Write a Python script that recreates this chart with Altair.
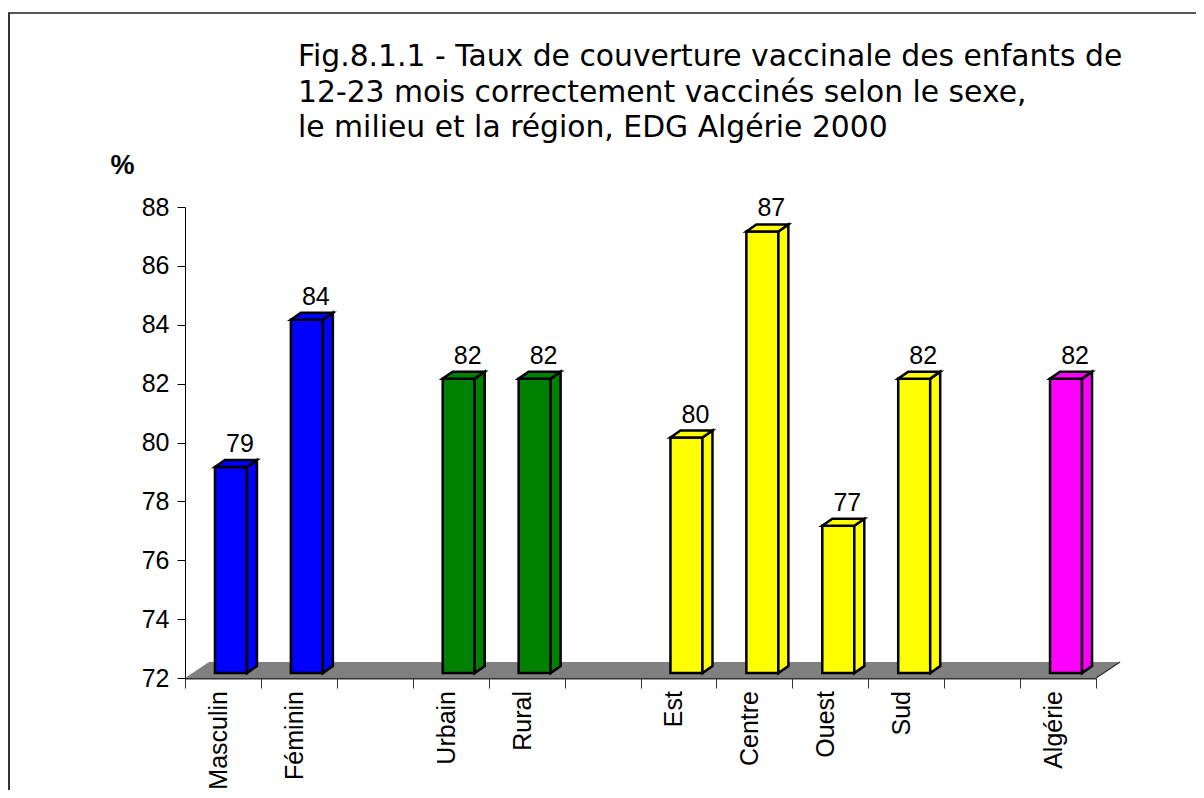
import altair as alt
import pandas as pd

# ---------------- data ----------------
categories = ["Masculin", "Féminin", "", "Urbain", "Rural", "", "Est", "Centre", "Ouest", "Sud", "", "Algérie"]
values = [79, 84, None, 82, 82, None, 80, 87, 77, 82, None, 82]
groups = ["Sexe", "Sexe", "", "Milieu", "Milieu", "", "Région", "Région", "Région", "Région", "", "Total"]
y_ticks = [72, 74, 76, 78, 80, 82, 84, 86, 88]
title_lines = [
    "Fig.8.1.1 - Taux de couverture vaccinale des enfants de",
    "12-23 mois correctement vaccinés selon le sexe,",
    "le milieu et la région, EDG Algérie 2000",
]
y_title = "%"

group_names = ["Sexe", "Milieu", "Région", "Total"]
front_colors = ["#0000FF", "#008000", "#FFFF00", "#FF00FF"]
side_colors = ["#000080", "#004000", "#808000", "#800080"]
top_colors = ["#0000CC", "#006600", "#CCCC00", "#CC00CC"]

# ---------------- geometry (style constants, in pixels) ----------------
W, H = 911, 471
Y0, Y1 = y_ticks[0], y_ticks[-1]
N = len(categories)
ux = N / W            # data units per pixel (x)
uy = (Y1 - Y0) / H    # data units per pixel (y)

BAR_W = 32 * ux
BAR_SHIFT_X = -8 * ux
BAR_SHIFT_Y = 5 * uy
DEPTH_X = 10 * ux
DEPTH_Y = 7 * uy
FLOOR_DX = 24 * ux
FLOOR_DY = 16 * uy
FONT = "Liberation Sans"
FS = 25
SW = 2.5

rows, side, top, labels = [], [], [], []
for i, (c, v, g) in enumerate(zip(categories, values, groups)):
    center = i + 0.5
    labels.append({"cat": c, "xc": center})
    if v is None:
        continue
    xl = center + BAR_SHIFT_X
    xr = xl + BAR_W
    yb = Y0 + BAR_SHIFT_Y
    yt = v + BAR_SHIFT_Y
    rows.append({"id": i, "g": g, "xl": xl, "xr": xr, "yb": yb, "yt": yt, "v": v, "xc": center})
    side += [
        {"id": i, "g": g, "x": xr, "y": yt, "y2": yb},
        {"id": i, "g": g, "x": xr + DEPTH_X, "y": yt + DEPTH_Y, "y2": yb + DEPTH_Y},
    ]
    top += [
        {"id": i, "g": g, "x": xl, "y": yt, "y2": yt},
        {"id": i, "g": g, "x": xl + DEPTH_X, "y": yt + DEPTH_Y, "y2": yt},
        {"id": i, "g": g, "x": xr, "y": yt + DEPTH_Y, "y2": yt},
        {"id": i, "g": g, "x": xr + DEPTH_X, "y": yt + DEPTH_Y, "y2": yt + DEPTH_Y},
    ]

bars = pd.DataFrame(rows)
side_df = pd.DataFrame(side)
top_df = pd.DataFrame(top)
lab_df = pd.DataFrame([l for l in labels if l["cat"]])

floor_df = pd.DataFrame({
    "x": [0, FLOOR_DX, N, N + FLOOR_DX],
    "y": [Y0, Y0 + FLOOR_DY, Y0 + FLOOR_DY, Y0 + FLOOR_DY],
    "y2": [Y0, Y0, Y0, Y0 + FLOOR_DY],
})
edge_df = pd.DataFrame({"x": [N], "y": [Y0], "x2": [N + FLOOR_DX], "y2": [Y0 + FLOOR_DY]})

xscale = alt.Scale(domain=[0, N], nice=False, zero=False)
yscale = alt.Scale(domain=[Y0, Y1], nice=False, zero=False)

x_axis = alt.Axis(values=list(range(N + 1)), labels=False, tickSize=10, tickColor="#333333",
                  domainColor="#333333", domainWidth=2, grid=False, title=None)
y_axis = alt.Axis(values=y_ticks, labelFontSize=FS, labelFont=FONT, labelColor="black",
                  tickSize=8, tickColor="black", domainColor="black", labelPadding=8, grid=False,
                  title=y_title, titleAngle=0, titleX=-63, titleY=-42, titleFontSize=27,
                  titleFont=FONT, titleFontWeight="bold", titleAlign="center",
                  titleBaseline="middle", titleColor="black")

floor = alt.Chart(floor_df).mark_area(color="#808080").encode(
    x=alt.X("x:Q", scale=xscale, axis=x_axis),
    y=alt.Y("y:Q", scale=yscale, axis=y_axis, stack=None),
    y2="y2:Q",
)
edge = alt.Chart(edge_df).mark_rule(color="#333333", strokeWidth=1.5).encode(
    x=alt.X("x:Q", scale=xscale), y=alt.Y("y:Q", scale=yscale), x2="x2:Q", y2="y2:Q"
)

front = alt.Chart(bars).mark_rect(stroke="black", strokeWidth=SW).encode(
    x=alt.X("xl:Q", scale=xscale), x2="xr:Q",
    y=alt.Y("yt:Q", scale=yscale), y2="yb:Q",
    color=alt.Color("g:N", scale=alt.Scale(domain=group_names, range=front_colors), legend=None),
)
side_faces = alt.Chart(side_df).mark_area(stroke="black", strokeWidth=SW, strokeJoin="miter").encode(
    x=alt.X("x:Q", scale=xscale),
    y=alt.Y("y:Q", scale=yscale, stack=None), y2="y2:Q",
    detail="id:N",
    color=alt.Color("g:N", scale=alt.Scale(domain=group_names, range=side_colors), legend=None),
)
top_faces = alt.Chart(top_df).mark_area(stroke="black", strokeWidth=SW, strokeJoin="miter").encode(
    x=alt.X("x:Q", scale=xscale),
    y=alt.Y("y:Q", scale=yscale, stack=None), y2="y2:Q",
    detail="id:N",
    color=alt.Color("g:N", scale=alt.Scale(domain=group_names, range=top_colors), legend=None),
)

value_text = alt.Chart(bars).mark_text(
    font=FONT, fontSize=FS, color="black", align="center", baseline="alphabetic",
    xOffset=17, yOffset=-20,
).encode(
    x=alt.X("xc:Q", scale=xscale), y=alt.Y("v:Q", scale=yscale), text=alt.Text("v:Q", format="d")
)

cat_text = alt.Chart(lab_df).mark_text(
    font=FONT, fontSize=FS, color="black", angle=270, align="right", baseline="middle",
    xOffset=-4, yOffset=13,
).encode(
    x=alt.X("xc:Q", scale=xscale), y=alt.datum(Y0, scale=yscale), text="cat:N"
)

one = pd.DataFrame({"k": [0]})
title_text = alt.Chart(one).mark_text(
    text=title_lines, font="DejaVu Sans", fontSize=29.8, color="black", align="left",
    baseline="middle", lineHeight=35.5,
).encode(x=alt.value(113), y=alt.value(-150))

border_top = alt.Chart(one).mark_rule(color="#555555", strokeWidth=2).encode(
    x=alt.value(-177), x2=alt.value(1100), y=alt.value(-194)
)
border_left = alt.Chart(one).mark_rule(color="#333333", strokeWidth=2).encode(
    x=alt.value(-176), y=alt.value(-194), y2=alt.value(600)
)

chart = alt.layer(
    border_top, border_left, title_text, floor, edge, front, side_faces, top_faces,
    value_text, cat_text
).properties(
    width=W, height=H,
    autosize=alt.AutoSizeParams(type="none"),
    padding={"left": 177, "top": 199, "right": 100, "bottom": 112},
).configure_view(stroke=None)

chart.save("out.html", embed_options={"renderer": "svg", "actions": False})
